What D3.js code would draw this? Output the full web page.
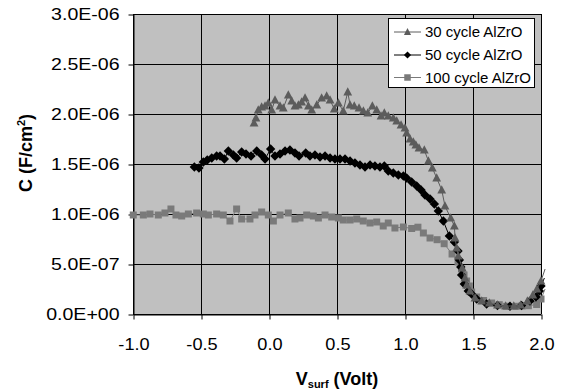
<!DOCTYPE html>
<html><head><meta charset="utf-8">
<script src="https://cdn.jsdelivr.net/npm/d3@7"></script>
<style>body{margin:0;background:#fff} svg{display:block} text{font-family:"Liberation Sans",Arial,sans-serif}</style>
</head><body><svg id="c" width="569" height="390"></svg>
<script>
// Capacitance in units of 1e-6 F/cm^2
const volt30=[-0.11,-0.096,-0.079,-0.054,-0.029,-0.005,0.02,0.044,0.081,0.105,0.142,0.167,0.191,0.216,0.24,0.265,0.29,0.314,0.351,0.387,0.424,0.449,0.48,0.51,0.546,0.579,0.596,0.627,0.662,0.694,0.726,0.76,0.792,0.824,0.848,0.877,0.914,0.939,0.971,1.0,1.012,1.037,1.061,1.08,1.103,1.142,1.172,1.201,1.233,1.27,1.294,1.336,1.363,1.368,1.38,1.392,1.421,1.441,1.453,1.478,1.515,1.564,1.62,1.68,1.74,1.80,1.85,1.9,1.94,1.97,2.0,2.03];
const cap30=[1.91,1.96,2.04,2.07,2.08,2.11,2.04,2.14,2.08,2.06,2.19,2.13,2.08,2.09,2.12,2.16,2.08,2.04,2.09,2.16,2.18,2.14,2.05,2.11,2.03,2.22,2.09,2.08,2.06,2.03,2.01,2.08,2.04,1.98,2.01,1.98,1.96,1.93,1.89,1.86,1.81,1.75,1.72,1.69,1.66,1.64,1.53,1.46,1.36,1.24,1.08,0.96,0.88,0.76,0.66,0.58,0.46,0.36,0.29,0.23,0.16,0.13,0.11,0.09,0.08,0.08,0.09,0.13,0.19,0.25,0.33,0.45];
const volt50=[-0.549,-0.515,-0.483,-0.454,-0.421,-0.385,-0.36,-0.328,-0.299,-0.262,-0.238,-0.201,-0.169,-0.132,-0.09,-0.054,-0.029,0.012,0.044,0.081,0.118,0.154,0.191,0.221,0.27,0.301,0.338,0.375,0.412,0.449,0.485,0.522,0.559,0.596,0.632,0.669,0.706,0.743,0.779,0.816,0.848,0.877,0.914,0.951,0.988,1.012,1.049,1.086,1.118,1.147,1.184,1.216,1.245,1.282,1.326,1.363,1.39,1.4,1.41,1.416,1.436,1.465,1.49,1.527,1.6,1.68,1.772,1.857,1.919,1.963,1.988,2.0,2.025];
const cap50=[1.47,1.46,1.52,1.54,1.56,1.58,1.58,1.55,1.63,1.59,1.56,1.62,1.60,1.58,1.63,1.59,1.55,1.65,1.58,1.60,1.63,1.64,1.61,1.58,1.61,1.58,1.59,1.57,1.58,1.56,1.55,1.55,1.55,1.53,1.51,1.49,1.47,1.49,1.48,1.47,1.48,1.43,1.41,1.39,1.38,1.36,1.32,1.28,1.24,1.19,1.15,1.10,1.03,0.93,0.78,0.72,0.63,0.54,0.47,0.39,0.30,0.23,0.20,0.15,0.10,0.085,0.077,0.085,0.13,0.17,0.23,0.28,0.36];
const volt100=[-0.998,-0.924,-0.875,-0.814,-0.765,-0.721,-0.684,-0.642,-0.593,-0.532,-0.483,-0.446,-0.385,-0.336,-0.287,-0.238,-0.201,-0.14,-0.103,-0.054,-0.005,0.032,0.081,0.142,0.191,0.228,0.277,0.326,0.363,0.412,0.461,0.51,0.546,0.596,0.645,0.693,0.743,0.792,0.84,0.877,0.926,0.988,1.049,1.095,1.135,1.184,1.236,1.288,1.346,1.39,1.416,1.434,1.453,1.473,1.49,1.527,1.578,1.637,1.693,1.747,1.816,1.86,1.907,1.968,2.0,2.03];
const cap100=[0.99,0.99,1.00,0.99,1.01,1.05,0.99,0.98,1.00,1.01,1.00,0.99,1.00,0.99,0.93,1.05,0.95,0.95,0.99,1.02,0.99,0.93,0.99,1.01,0.95,0.96,0.99,0.98,0.96,0.99,0.97,0.96,0.94,0.94,0.95,0.93,0.91,0.92,0.88,0.91,0.86,0.87,0.855,0.868,0.81,0.76,0.743,0.703,0.6,0.52,0.45,0.39,0.33,0.28,0.22,0.17,0.135,0.11,0.093,0.077,0.077,0.08,0.083,0.095,0.15,0.25];
const xTicks=[-1,-0.5,0,0.5,1,1.5,2];
const xTickLabels=["-1.0","-0.5","0.0","0.5","1.0","1.5","2.0"];
const yTicks=[0,0.5,1,1.5,2,2.5,3];
const yTickLabels=["0.0E+00","5.0E-07","1.0E-06","1.5E-06","2.0E-06","2.5E-06","3.0E-06"];
const seriesNames=["30 cycle AlZrO","50 cycle AlZrO","100 cycle AlZrO"];
const seriesColors=["#5c5c5c","#000000","#7a7a7a"];
const seriesMarkers=["triangle","diamond","square"];

const svg=d3.select("#c");
const x=d3.scaleLinear().domain([-1,2]).range([133,541]);
const y=d3.scaleLinear().domain([0,3]).range([314,14]);
const crisp=v=>Math.round(v)+0.5;

svg.append("rect").attr("x",133).attr("y",14).attr("width",408).attr("height",300).attr("fill","#c0c0c0");
const g=svg.append("g");
g.selectAll(".vg").data(xTicks).join("line").attr("x1",d=>crisp(x(d))).attr("x2",d=>crisp(x(d))).attr("y1",y(3)).attr("y2",y(0)).attr("stroke","#000").attr("stroke-width",1);
g.selectAll(".hg").data(yTicks).join("line").attr("y1",d=>crisp(y(d))).attr("y2",d=>crisp(y(d))).attr("x1",x(-1)).attr("x2",x(2)).attr("stroke","#000").attr("stroke-width",1);

const yAxis=d3.axisLeft(y).tickValues(yTicks).tickFormat((d,i)=>yTickLabels[i]).tickSize(5).tickSizeOuter(0).tickPadding(9);
const ya=svg.append("g").attr("transform","translate(133.5,0.5)").call(yAxis);
const xAxis=d3.axisBottom(x).tickValues(xTicks).tickFormat((d,i)=>xTickLabels[i]).tickSize(5).tickSizeOuter(0).tickPadding(18);
const xa=svg.append("g").attr("transform","translate(0.5,314.5)").call(xAxis);
[ya,xa].forEach(a=>{a.selectAll("text").attr("font-size",17).attr("font-family","Liberation Sans, Arial, sans-serif").attr("fill","#000");a.selectAll("line,path").attr("stroke","#000");});
ya.selectAll("text").attr("x",-14/1.15).attr("transform","scale(1.15,1)");
xa.selectAll("text").attr("transform","scale(1.07,1)");

function markerPath(type,s){
  if(type==="triangle"){return `M0,${-s*0.6}L${s*0.55},${s*0.45}L${-s*0.55},${s*0.45}Z`;}
  if(type==="diamond"){return `M0,${-s*0.55}L${s*0.55},0L0,${s*0.55}L${-s*0.55},0Z`;}
  return `M${-s/2},${-s/2}h${s}v${s}h${-s}Z`;
}
const series=[[volt30,cap30],[volt50,cap50],[volt100,cap100]];
const line=d3.line().x(d=>x(d[0])).y(d=>y(d[1]));
const drawOrder=[2,1,0];
const mSize=[8,8.5,7];
drawOrder.forEach(k=>{
  const pts=series[k][0].map((v,i)=>[v,series[k][1][i]]);
  svg.append("path").attr("d",line(pts)).attr("fill","none").attr("stroke",seriesColors[k]).attr("stroke-width",1);
  svg.append("g").selectAll("path").data(pts.filter(p=>p[0]<=2.0001)).join("path")
    .attr("transform",p=>`translate(${x(p[0])},${y(p[1])})`)
    .attr("d",markerPath(seriesMarkers[k],mSize[k])).attr("fill",seriesColors[k]);
});

// legend
const lg=svg.append("g");
lg.append("rect").attr("x",388.5).attr("y",18.5).attr("width",146).attr("height",69).attr("fill","#fff").attr("stroke","#000");
const rowY=[32,55,77.5];
seriesNames.forEach((n,k)=>{
  lg.append("line").attr("x1",394).attr("x2",421).attr("y1",rowY[k]).attr("y2",rowY[k]).attr("stroke",seriesColors[k]);
  lg.append("path").attr("transform",`translate(407.5,${rowY[k]})`).attr("d",markerPath(seriesMarkers[k],6.5)).attr("fill",seriesColors[k]);
  lg.append("text").attr("x",425).attr("y",rowY[k]).attr("dy","0.36em").attr("font-size",15).attr("fill","#000").text(n);
});

// titles
const xt=svg.append("text").attr("x",337).attr("y",385).attr("text-anchor","middle").attr("font-size",18).attr("font-weight","bold");
xt.append("tspan").text("V");
xt.append("tspan").attr("font-size",11).attr("dy",3).text("surf");
xt.append("tspan").attr("dy",-3).text(" (Volt)");
const yt=svg.append("text").attr("transform","translate(32,153) rotate(-90)").attr("text-anchor","middle").attr("font-size",18).attr("font-weight","bold");
yt.append("tspan").text("C (F/cm");
yt.append("tspan").attr("font-size",11).attr("dy",-7).text("2");
yt.append("tspan").attr("dy",7).text(")");
</script></body></html>
